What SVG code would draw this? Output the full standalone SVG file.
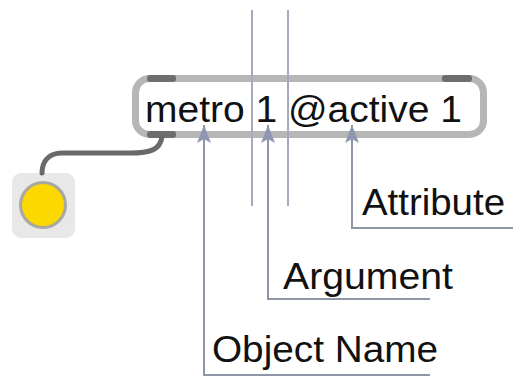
<svg xmlns="http://www.w3.org/2000/svg" width="513" height="377" viewBox="0 0 513 377">
<style>
  .lbl { font-family: "Liberation Sans", Arial, sans-serif; font-size: 37px; fill: #111; }
  .guide { stroke: #a3abbb; stroke-width: 2; fill: none; }
  .leader { stroke: #8e96a6; stroke-width: 2; fill: none; }
  .port { fill: #6e6e6e; }
</style>
<defs>
  <marker id="ah" viewBox="0 0 18 14" refX="18" refY="7" markerWidth="18" markerHeight="14" markerUnits="userSpaceOnUse" orient="auto-start-reverse">
    <path d="M18 7 L0 0 L4 7 L0 14 Z" fill="#8e98b0"/>
  </marker>
</defs>
<rect width="513" height="377" fill="#ffffff"/>

<g id="toggle">
  <rect x="12" y="173" width="63" height="65" rx="9" fill="#e8e8e8"/>
  <circle cx="43" cy="205" r="24" fill="#a9a7a0"/>
  <circle cx="43" cy="205" r="21" fill="#fad800"/>
</g>

<g id="metro">
  <rect x="135.5" y="78.5" width="348" height="56" rx="14" fill="#ffffff" stroke="#b6b6b6" stroke-width="7"/>
  <rect class="port" x="147" y="75" width="29" height="7" rx="3"/>
  <rect class="port" x="442" y="75" width="30" height="7" rx="3"/>
  <rect class="port" x="147" y="131" width="29" height="7" rx="3"/>
  <text class="lbl" x="145" y="122" textLength="317" lengthAdjust="spacingAndGlyphs">metro 1 @active 1</text>
</g>

<g id="connectors">
  <path d="M162 137 C160 150 150 153 130 153 L62 153 C48 153 42 162 42 173" stroke="#6a6a6a" stroke-width="5" fill="none" stroke-linecap="round"/>
  <line class="guide" x1="252" y1="10" x2="252" y2="206"/>
  <line class="guide" x1="288" y1="10" x2="288" y2="206"/>
  <path class="leader" d="M352 125 L352 228 L513 228" marker-start="url(#ah)"/>
  <path class="leader" d="M268 125 L268 299 L430 299" marker-start="url(#ah)"/>
  <path class="leader" d="M204 125 L204 375 L430 375" marker-start="url(#ah)"/>
</g>

<g id="label-attribute">
  <text class="lbl" x="362" y="215" textLength="143" lengthAdjust="spacingAndGlyphs">Attribute</text>
</g>
<g id="label-argument">
  <text class="lbl" x="283" y="289" textLength="170" lengthAdjust="spacingAndGlyphs">Argument</text>
</g>
<g id="label-object">
  <text class="lbl" x="212" y="362" textLength="226" lengthAdjust="spacingAndGlyphs">Object Name</text>
</g>
</svg>
